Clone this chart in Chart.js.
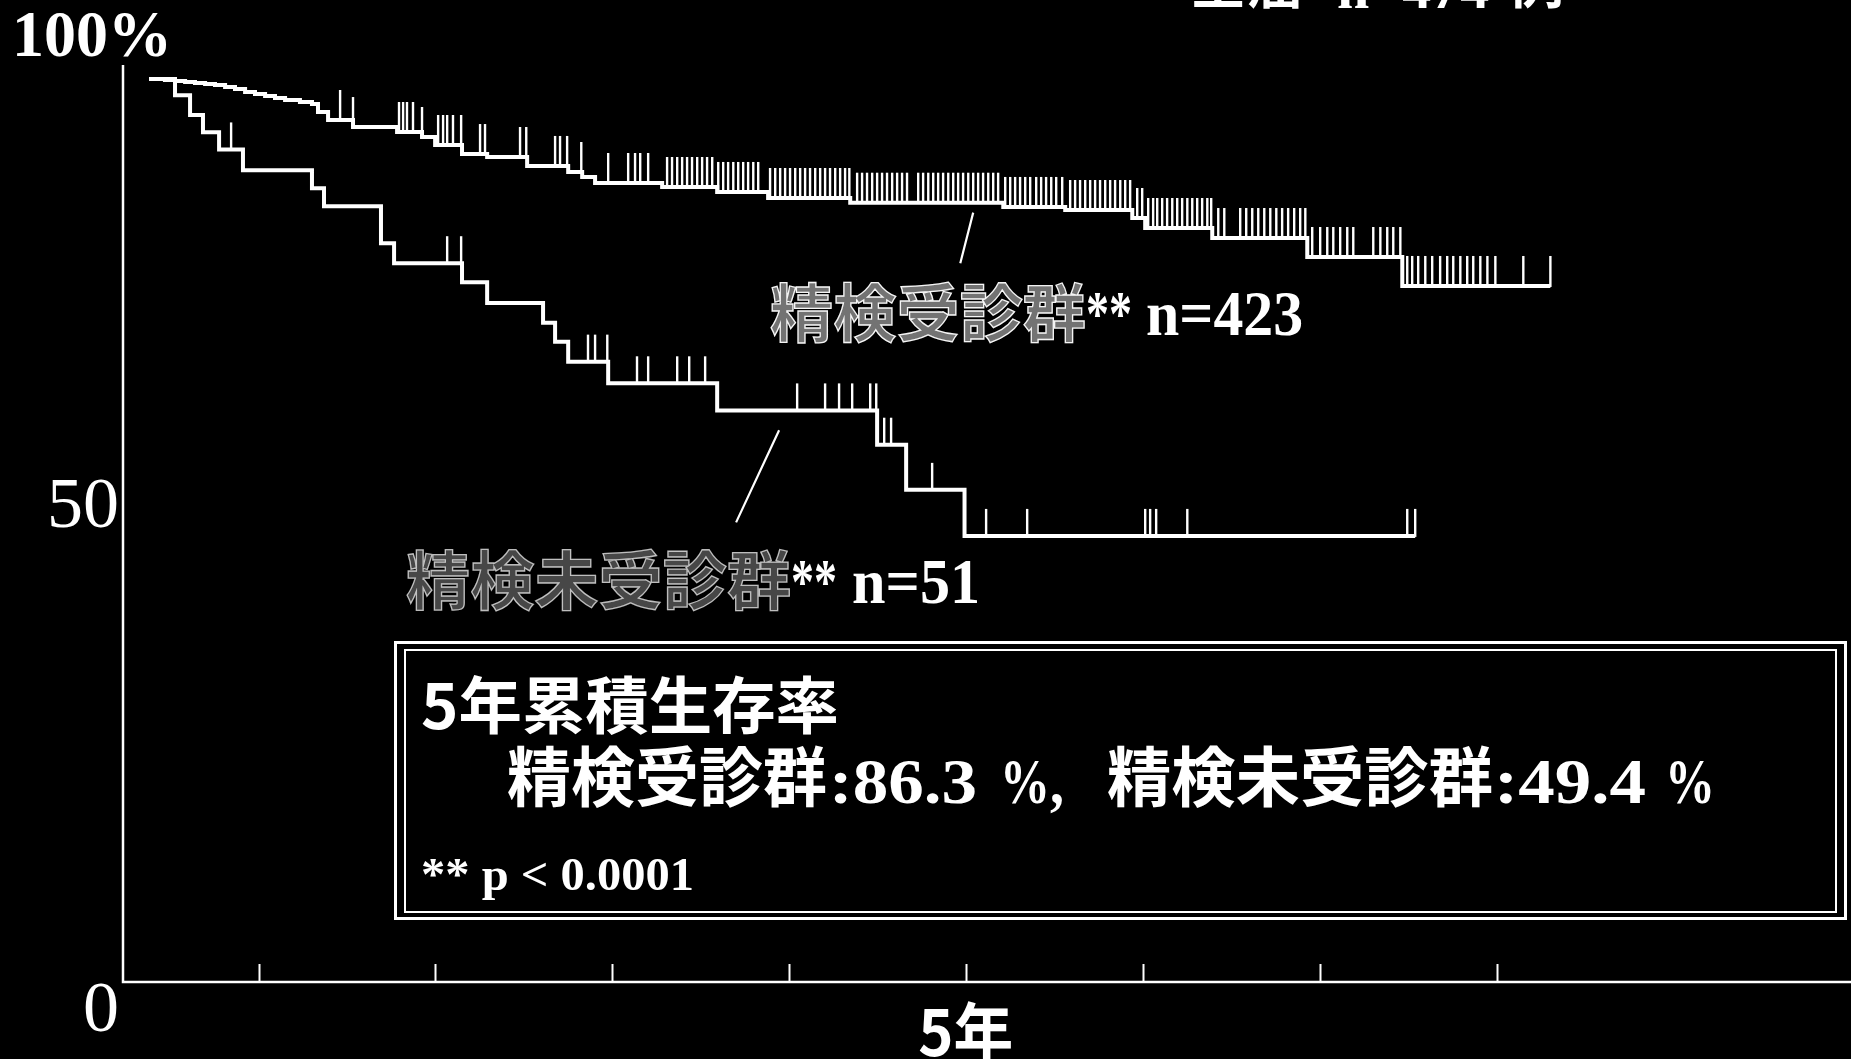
<!DOCTYPE html>
<html>
<head>
<meta charset="utf-8">
<script src="https://cdn.jsdelivr.net/npm/chart.js@4.4.1/dist/chart.umd.min.js"></script>
<style>
  html, body { margin: 0; padding: 0; background: #000; overflow: hidden; }
  canvas { display: block; }
</style>
</head>
<body>
<canvas id="km" width="1851" height="1059"></canvas>
<script>
// ---- Kaplan-Meier data: time in years, cumulative survival in percent ----
const yTickValues = [0, 50, 100];
const yTickLabels = ['0', '50', '100%'];
const xTickYears  = [1, 2, 3, 4, 5, 6, 7, 8];
const xTickLabelYear = 5;
const xTickLabelText = '5年';

const groupNames    = ['精検受診群', '精検未受診群'];
const groupSizes    = [423, 51];
const fiveYearRates = [86.3, 49.4];
const pValueText    = '** p < 0.0001';
const titleText     = '全癌';

// 精検受診群 (n=423)
const examStart = 0.381;
const examEventTimes = [0.471, 0.528, 0.585, 0.641, 0.698, 0.754, 0.811, 0.867, 0.924, 0.980,
  1.037, 1.093, 1.150, 1.234, 1.302, 1.336, 1.393, 1.534, 1.783, 1.924, 1.998, 2.150, 2.292,
  2.518, 2.750, 2.829, 2.902, 3.281, 3.592, 3.880, 4.344, 5.209, 5.559, 5.938, 6.011, 6.390,
  6.927, 7.464];
const examSurvival = [99.89, 99.78, 99.67, 99.56, 99.45, 99.34, 99.11, 98.89, 98.56, 98.34,
  98.12, 97.90, 97.67, 97.45, 97.23, 96.35, 95.46, 94.68, 94.13, 93.58, 92.69, 91.69, 91.36,
  90.37, 89.70, 89.15, 88.48, 88.04, 87.49, 86.82, 86.3, 85.83, 85.49, 84.61, 83.50, 82.39,
  80.29, 77.08];
const examEnd = 8.301;
const examCensored = [1.461, 1.534, 1.794, 1.817, 1.839, 1.873, 1.924, 2.015, 2.043, 2.066,
  2.099, 2.145, 2.252, 2.280, 2.478, 2.513, 2.676, 2.704, 2.744, 2.824, 2.976, 3.089, 3.128,
  3.157, 3.202, 3.309, 3.337, 3.366, 3.394, 3.422, 3.450, 3.479, 3.507, 3.535, 3.564, 3.598,
  3.626, 3.654, 3.683, 3.711, 3.739, 3.767, 3.796, 3.824, 3.891, 3.920, 3.948, 3.976, 4.004,
  4.033, 4.061, 4.089, 4.117, 4.146, 4.174, 4.202, 4.230, 4.259, 4.287, 4.315, 4.339, 4.383,
  4.411, 4.439, 4.468, 4.496, 4.524, 4.552, 4.581, 4.609, 4.637, 4.665, 4.728, 4.756, 4.785,
  4.813, 4.841, 4.869, 4.898, 4.926, 4.954, 4.982, 5.011, 5.039, 5.067, 5.095, 5.124, 5.152,
  5.180, 5.220, 5.248, 5.276, 5.304, 5.333, 5.361, 5.395, 5.423, 5.451, 5.480, 5.508, 5.542,
  5.587, 5.615, 5.643, 5.672, 5.700, 5.728, 5.756, 5.785, 5.813, 5.841, 5.870, 5.898, 5.926,
  5.966, 5.994, 6.028, 6.056, 6.079, 6.107, 6.135, 6.164, 6.192, 6.220, 6.249, 6.277, 6.305,
  6.333, 6.362, 6.384, 6.424, 6.458, 6.548, 6.582, 6.616, 6.650, 6.684, 6.718, 6.752, 6.785,
  6.819, 6.853, 6.887, 6.916, 6.955, 7.000, 7.040, 7.074, 7.113, 7.153, 7.187, 7.300, 7.340,
  7.379, 7.413, 7.453, 7.492, 7.520, 7.554, 7.594, 7.633, 7.678, 7.718, 7.752, 7.792, 7.831,
  7.865, 7.905, 7.945, 7.990, 8.148, 8.301];

// 精検未受診群 (n=51)
const noExamStart = 0.381;
const noExamEventTimes = [0.528, 0.613, 0.686, 0.777, 0.912, 1.302, 1.370, 1.692, 1.766,
  2.150, 2.292, 2.608, 2.676, 2.750, 2.976, 3.592, 4.496, 4.660, 4.990];
const noExamSurvival = [98.2, 96.0, 94.1, 92.2, 89.9, 87.9, 85.9, 81.8, 79.6,
  77.5, 75.2, 73.0, 70.9, 68.7, 66.3, 63.3, 59.5, 54.5, 49.4];
const noExamEnd = 7.537;
const noExamCensored = [0.845, 2.066, 2.145, 2.862, 2.902, 2.971, 3.139, 3.202, 3.366, 3.434,
  3.524, 4.044, 4.202, 4.281, 4.355, 4.457, 4.491, 4.536, 4.575, 4.807, 5.112, 5.344, 6.011,
  6.039, 6.073, 6.249, 7.492, 7.537];

// ---- helpers ----
function stepPoints(start, times, surv, end) {
  const pts = [{ x: start, y: 100 }];
  times.forEach((t, i) => pts.push({ x: t, y: surv[i] }));
  pts.push({ x: end, y: surv[surv.length - 1] });
  return pts;
}
function survivalAt(times, surv, t) {
  let s = 100;
  for (let i = 0; i < times.length; i++) {
    if (times[i] <= t) s = surv[i]; else break;
  }
  return s;
}
// draw text squeezed or stretched horizontally to a given width
function fitText(ctx, text, x, y, width) {
  const w = ctx.measureText(text).width;
  ctx.save();
  ctx.translate(x, y);
  ctx.scale(width / w, 1);
  ctx.fillText(text, 0, 0);
  ctx.restore();
}
function fitOutlined(ctx, text, x, y, width, fillAlpha, strokeAlpha) {
  const w = ctx.measureText(text).width;
  ctx.save();
  ctx.translate(x, y);
  ctx.scale(width / w, 1);
  ctx.fillStyle = 'rgba(255,255,255,' + fillAlpha + ')';
  ctx.fillText(text, 0, 0);
  ctx.strokeStyle = 'rgba(255,255,255,' + strokeAlpha + ')';
  ctx.lineWidth = 1.3;
  ctx.strokeText(text, 0, 0);
  ctx.restore();
}

const groups = [
  { times: examEventTimes, surv: examSurvival, censored: examCensored, tick: 30 },
  { times: noExamEventTimes, surv: noExamSurvival, censored: noExamCensored, tick: 27 }
];

const SERIF = '"Liberation Serif", "Times New Roman", serif';
const GOTHIC = '"Noto Sans CJK JP", "Noto Sans", sans-serif';

// ---- axes, tick marks and tick labels ----
const axesPlugin = {
  id: 'axesPlugin',
  beforeDatasetsDraw(chart) {
    const { ctx, chartArea: a, scales: { x, y } } = chart;
    ctx.save();
    ctx.strokeStyle = '#fff';
    ctx.fillStyle = '#fff';
    ctx.lineWidth = 2.5;
    ctx.beginPath();
    ctx.moveTo(a.left, a.top);
    ctx.lineTo(a.left, a.bottom);
    ctx.lineTo(a.right, a.bottom);
    ctx.stroke();

    ctx.lineWidth = 2;
    xTickYears.forEach(v => {
      const px = Math.round(x.getPixelForValue(v)) + 0.5;
      ctx.beginPath();
      ctx.moveTo(px, a.bottom);
      ctx.lineTo(px, a.bottom - 18);
      ctx.stroke();
    });

    // y tick labels
    yTickValues.forEach((v, i) => {
      const py = y.getPixelForValue(v);
      const label = yTickLabels[i];
      if (v === 100) {
        ctx.font = 'bold 66px ' + SERIF;
        ctx.textAlign = 'left';
        ctx.textBaseline = 'alphabetic';
        fitText(ctx, label, 12, py - 23, 160);
      } else if (v === 50) {
        ctx.font = '72px ' + SERIF;
        ctx.textAlign = 'right';
        ctx.textBaseline = 'middle';
        ctx.fillText(label, a.left - 4, py - 22);
      } else {
        ctx.font = '72px ' + SERIF;
        ctx.textAlign = 'right';
        ctx.textBaseline = 'middle';
        ctx.fillText(label, a.left - 4, py + 30);
      }
    });

    // x label
    ctx.font = 'bold 64px ' + GOTHIC;
    ctx.textAlign = 'left';
    ctx.textBaseline = 'middle';
    fitText(ctx, xTickLabelText, x.getPixelForValue(xTickLabelYear) - 48, a.bottom + 50, 95);
    ctx.restore();
  }
};

// ---- censoring marks ----
const censorPlugin = {
  id: 'censorPlugin',
  afterDatasetsDraw(chart) {
    const { ctx, scales: { x, y } } = chart;
    ctx.save();
    ctx.strokeStyle = '#fff';
    ctx.lineWidth = 2.4;
    groups.forEach(g => {
      g.censored.forEach(t => {
        const px = x.getPixelForValue(t);
        const py = y.getPixelForValue(survivalAt(g.times, g.surv, t));
        ctx.beginPath();
        ctx.moveTo(px, py + 1);
        ctx.lineTo(px, py - g.tick);
        ctx.stroke();
      });
    });
    ctx.restore();
  }
};

// ---- group labels, leader lines, summary box ----
const annotationPlugin = {
  id: 'annotationPlugin',
  afterDraw(chart) {
    const { ctx, scales: { x, y } } = chart;
    ctx.save();
    ctx.strokeStyle = '#fff';
    ctx.fillStyle = '#fff';
    ctx.textAlign = 'left';

    // leader lines (data coordinates)
    ctx.lineWidth = 2.2;
    ctx.beginPath();
    ctx.moveTo(x.getPixelForValue(5.039), y.getPixelForValue(85.2));
    ctx.lineTo(x.getPixelForValue(4.966), y.getPixelForValue(79.6));
    ctx.moveTo(x.getPixelForValue(3.942), y.getPixelForValue(61.1));
    ctx.lineTo(x.getPixelForValue(3.699), y.getPixelForValue(50.9));
    ctx.stroke();

    // group labels
    ctx.textBaseline = 'middle';
    ctx.font = 'bold 63px ' + GOTHIC;
    let lx = x.getPixelForValue(3.891), ly = y.getPixelForValue(74.2);
    fitOutlined(ctx, groupNames[0], lx, ly, 316, 0.45, 0.95);
    ctx.fillStyle = '#fff';
    ctx.textBaseline = 'alphabetic';
    ctx.font = 'bold 64px ' + SERIF;
    fitText(ctx, '**', lx + 316, ly + 23, 46);
    fitText(ctx, 'n=' + groupSizes[0], lx + 376, ly + 23, 157);

    ctx.textBaseline = 'middle';
    ctx.font = 'bold 64px ' + GOTHIC;
    lx = x.getPixelForValue(1.834); ly = y.getPixelForValue(44.5);
    fitOutlined(ctx, groupNames[1], lx, ly, 385, 0.28, 0.7);
    ctx.fillStyle = '#fff';
    ctx.textBaseline = 'alphabetic';
    ctx.font = 'bold 64px ' + SERIF;
    fitText(ctx, '**', lx + 385, ly + 23, 46);
    fitText(ctx, 'n=' + groupSizes[1], lx + 446, ly + 23, 128);

    // summary box with double border
    ctx.lineWidth = 3;
    ctx.strokeRect(395.5, 642.5, 1450, 276);
    ctx.lineWidth = 2;
    ctx.strokeRect(405, 650, 1431, 262);

    ctx.fillStyle = '#fff';
    ctx.textBaseline = 'middle';
    ctx.font = 'bold 62px ' + GOTHIC;
    fitText(ctx, '5年累積生存率', 421, 705, 418);

    ctx.font = 'bold 65px ' + GOTHIC;
    fitText(ctx, groupNames[0], 507, 776, 320);
    fitText(ctx, groupNames[1], 1107, 776, 386);

    ctx.textBaseline = 'alphabetic';
    ctx.font = 'bold 64px ' + SERIF;
    fitText(ctx, ':' + fiveYearRates[0].toFixed(1), 829, 803, 148);
    fitText(ctx, '%', 1000, 803, 50);
    fitText(ctx, ',', 1050, 803, 14);
    fitText(ctx, ':' + fiveYearRates[1].toFixed(1), 1494, 803, 152);
    fitText(ctx, '%', 1665, 803, 50);

    ctx.font = 'bold 47px ' + SERIF;
    fitText(ctx, pValueText, 421, 890, 273);

    // title running off the top edge
    ctx.font = 'bold 56px ' + GOTHIC;
    ctx.fillText(titleText, 1190, 3);
    ctx.font = 'bold 58px ' + SERIF;
    ctx.fillText('n=' + (groupSizes[0] + groupSizes[1]), 1337, 8);
    ctx.font = 'bold 56px ' + GOTHIC;
    ctx.fillText('例', 1508, 3);
    ctx.restore();
  }
};

new Chart(document.getElementById('km'), {
  type: 'line',
  data: {
    datasets: [
      {
        label: groupNames[0],
        data: stepPoints(examStart, examEventTimes, examSurvival, examEnd),
        stepped: 'before',
        borderColor: '#fff',
        borderWidth: 4,
        pointRadius: 0,
        fill: false
      },
      {
        label: groupNames[1],
        data: stepPoints(noExamStart, noExamEventTimes, noExamSurvival, noExamEnd),
        stepped: 'before',
        borderColor: '#fff',
        borderWidth: 4,
        pointRadius: 0,
        fill: false
      }
    ]
  },
  options: {
    responsive: false,
    animation: false,
    devicePixelRatio: 1,
    layout: { padding: { left: 123, right: 0, top: 65, bottom: 77 } },
    plugins: { legend: { display: false }, tooltip: { enabled: false } },
    scales: {
      x: { type: 'linear', min: 0.234, max: 10, display: false },
      y: { type: 'linear', min: 0, max: 101.55, display: false }
    }
  },
  plugins: [axesPlugin, censorPlugin, annotationPlugin]
});
</script>
</body>
</html>
